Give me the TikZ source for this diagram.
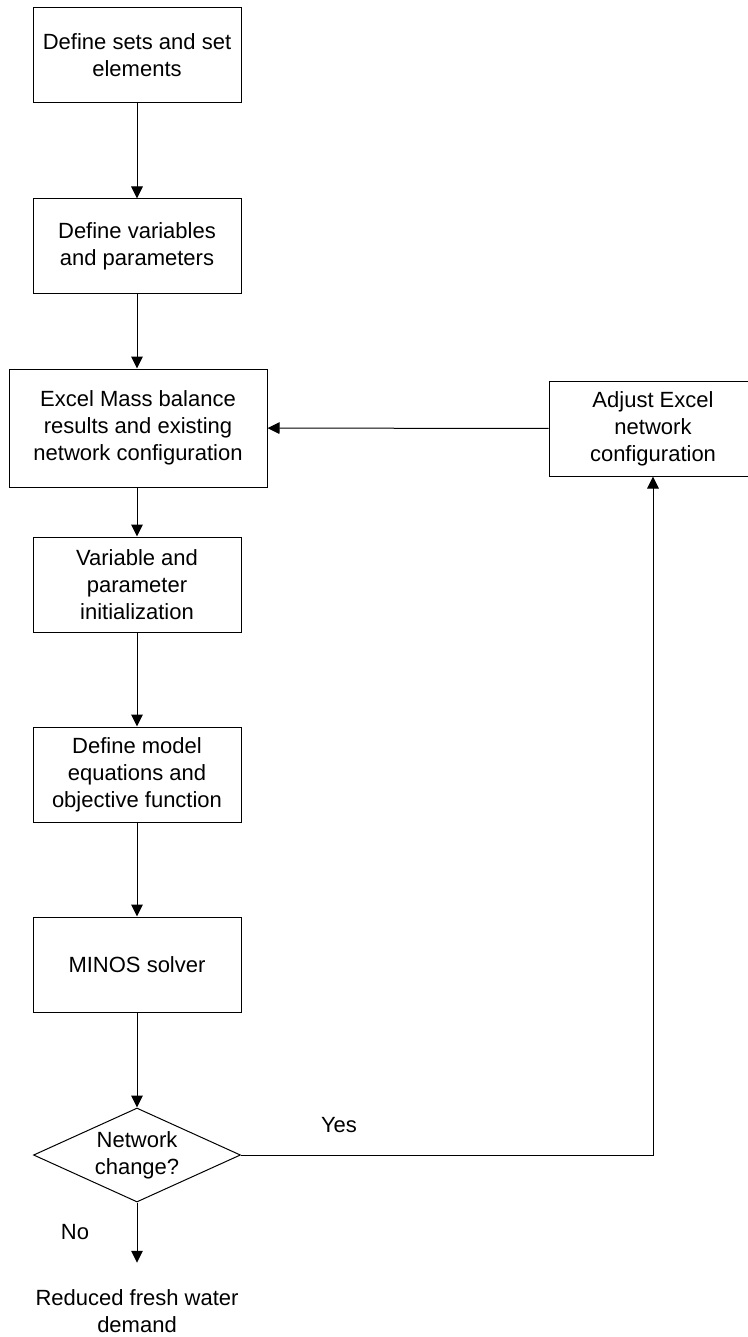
\documentclass[tikz,border=0pt]{standalone}
\usepackage{fontspec}
\setmainfont{Liberation Sans}
\usetikzlibrary{arrows.meta,shapes.geometric}
\begin{document}
\begin{tikzpicture}
	[x=0.75pt, y=-0.75pt, line width=0.75pt,
	 font=\fontsize{16.5pt}{20.25pt}\selectfont,
	 box/.style={draw, align=center, minimum width=156pt, minimum height=71.25pt, inner sep=0pt},
	 decision/.style={draw, diamond, aspect=2.2, align=center, inner sep=0pt, minimum width=155.25pt, minimum height=70.5pt},
	 arr/.style={-{Triangle[length=9pt,width=8.75pt]}}]
	\useasboundingbox (0,0) rectangle (747,1337);
	\node[box] (s) at (137,55.5) {Define sets and set\\elements};
	\node[box] (v) at (137,246.5) {Define variables\\and parameters};
	\node[box, minimum width=193.5pt, minimum height=88.5pt] (e) at (138,428) {Excel Mass balance\\results and existing\\network configuration};
	\node[box] (a) at (653,428.5) {Adjust Excel\\network\\configuration};
	\node[box] (i) at (137,584.5) {Variable and\\parameter\\initialization};
	\node[box] (q) at (137,774.5) {Define model\\equations and\\objective function};
	\node[box] (m) at (137,964.5) {MINOS solver};
	\node[decision] (d) at (137,1155) {Network\\change?};
	\node[align=center, inner xsep=0pt, inner ysep=20pt] (r) at (137,1311.5) {Reduced fresh water\\demand};
	\node (yes) at (339,1125) {Yes};
	\node (no) at (75,1232) {No};
	\draw[arr] (s) -- (v);
	\draw[arr] (v) -- (v |- e.north);
	\draw[arr] (i |- e.south) -- (i);
	\draw[arr] (i) -- (q);
	\draw[arr] (q) -- (m);
	\draw[arr] (m) -- (d);
	\draw[arr] (d) -- (r);
	\draw[arr] (d.east) -- (d.east -| a.south) -- (a.south);
	\draw[arr] (a) -- (e);
\end{tikzpicture}
\end{document}
